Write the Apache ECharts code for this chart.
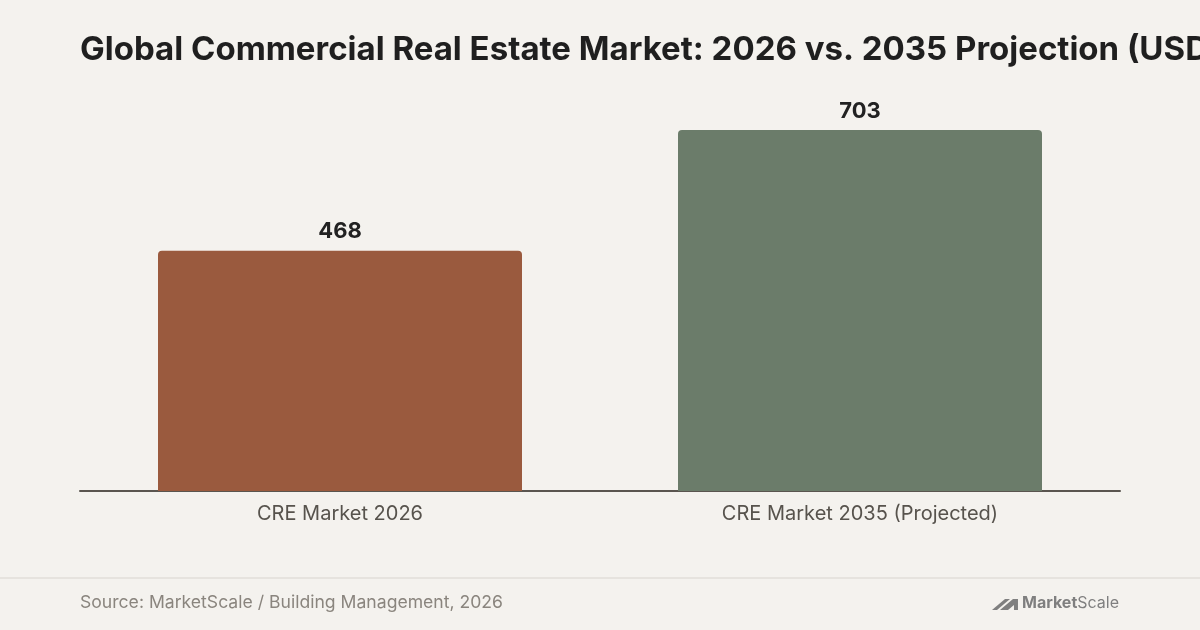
<!DOCTYPE html>
<html>
<head>
    <meta charset="utf-8">
    <title>Global Commercial Real Estate Market</title>
    <script src="https://cdn.jsdelivr.net/npm/echarts@6/dist/echarts.min.js"></script>
    <style>
        html, body { margin: 0; padding: 0; background: #f4f2ee; }
        #main { width: 1200px; height: 630px; }
    </style>
</head>
<body>
<div id="main"></div>
<script type="text/javascript">
    // chart data
    var categories = ['CRE Market 2026', 'CRE Market 2035 (Projected)'];
    var values = [468, 703];
    var barColors = ['#9a5a3e', '#6b7c6a'];

    var titleText = 'Global Commercial Real Estate Market: 2026 vs. 2035 Projection (USD Billions)';
    var sourceText = 'Source: MarketScale / Building Management, 2026';

    var myChart = echarts.init(document.getElementById('main'));

    var option = {
        backgroundColor: '#f4f2ee',
        title: {
            text: titleText,
            left: 80,
            top: 34,
            padding: 0,
            textStyle: {
                fontFamily: 'Inter',
                fontWeight: 'bold',
                fontSize: 33,
                color: '#1f1f1f'
            }
        },
        grid: {
            left: 80,
            right: 80,
            top: 130,
            bottom: 139
        },
        xAxis: {
            type: 'category',
            data: categories,
            axisTick: { show: false },
            axisLine: { lineStyle: { color: '#5a554f', width: 2 } },
            axisLabel: {
                margin: 13,
                fontFamily: 'Inter',
                fontSize: 20,
                color: '#57534d'
            }
        },
        yAxis: {
            type: 'value',
            min: 0,
            max: 'dataMax',
            show: false,
            splitLine: { show: false }
        },
        series: [{
            type: 'bar',
            barWidth: '70%',
            data: values.map(function (v, i) {
                return { value: v, itemStyle: { color: barColors[i] } };
            }),
            itemStyle: { borderRadius: [4, 4, 0, 0] },
            label: {
                show: true,
                position: 'top',
                distance: 8,
                fontFamily: 'Inter',
                fontWeight: 'bold',
                fontSize: 22,
                color: '#222222'
            }
        }],
        graphic: [
            {
                type: 'rect',
                shape: { x: 0, y: 577, width: 1200, height: 2 },
                style: { fill: '#e6e3de' }
            },
            {
                type: 'text',
                left: 80,
                top: 594,
                style: {
                    text: sourceText,
                    font: '17.6px Inter',
                    fill: '#8a857e'
                }
            },
            {
                // logo mark
                type: 'group',
                right: 81,
                top: 595,
                children: [
                    {
                        type: 'polygon',
                        shape: { points: [[0, 15], [13, 4], [18, 4], [5, 15]] },
                        style: { fill: '#7f7f7f' }
                    },
                    {
                        type: 'polygon',
                        shape: { points: [[8, 15], [21, 4], [26, 4], [26, 15], [22, 15], [22, 10], [16, 15]] },
                        style: { fill: '#7f7f7f' }
                    },
                    {
                        type: 'text',
                        x: 30,
                        y: 0,
                        style: {
                            text: '{b|Market}{n|Scale}',
                            rich: {
                                b: { font: 'bold 16px Inter', fill: '#7f7f7f' },
                                n: { font: '16px Inter', fill: '#7f7f7f' }
                            }
                        }
                    }
                ]
            }
        ]
    };

    myChart.setOption(option);
</script>
</body>
</html>
